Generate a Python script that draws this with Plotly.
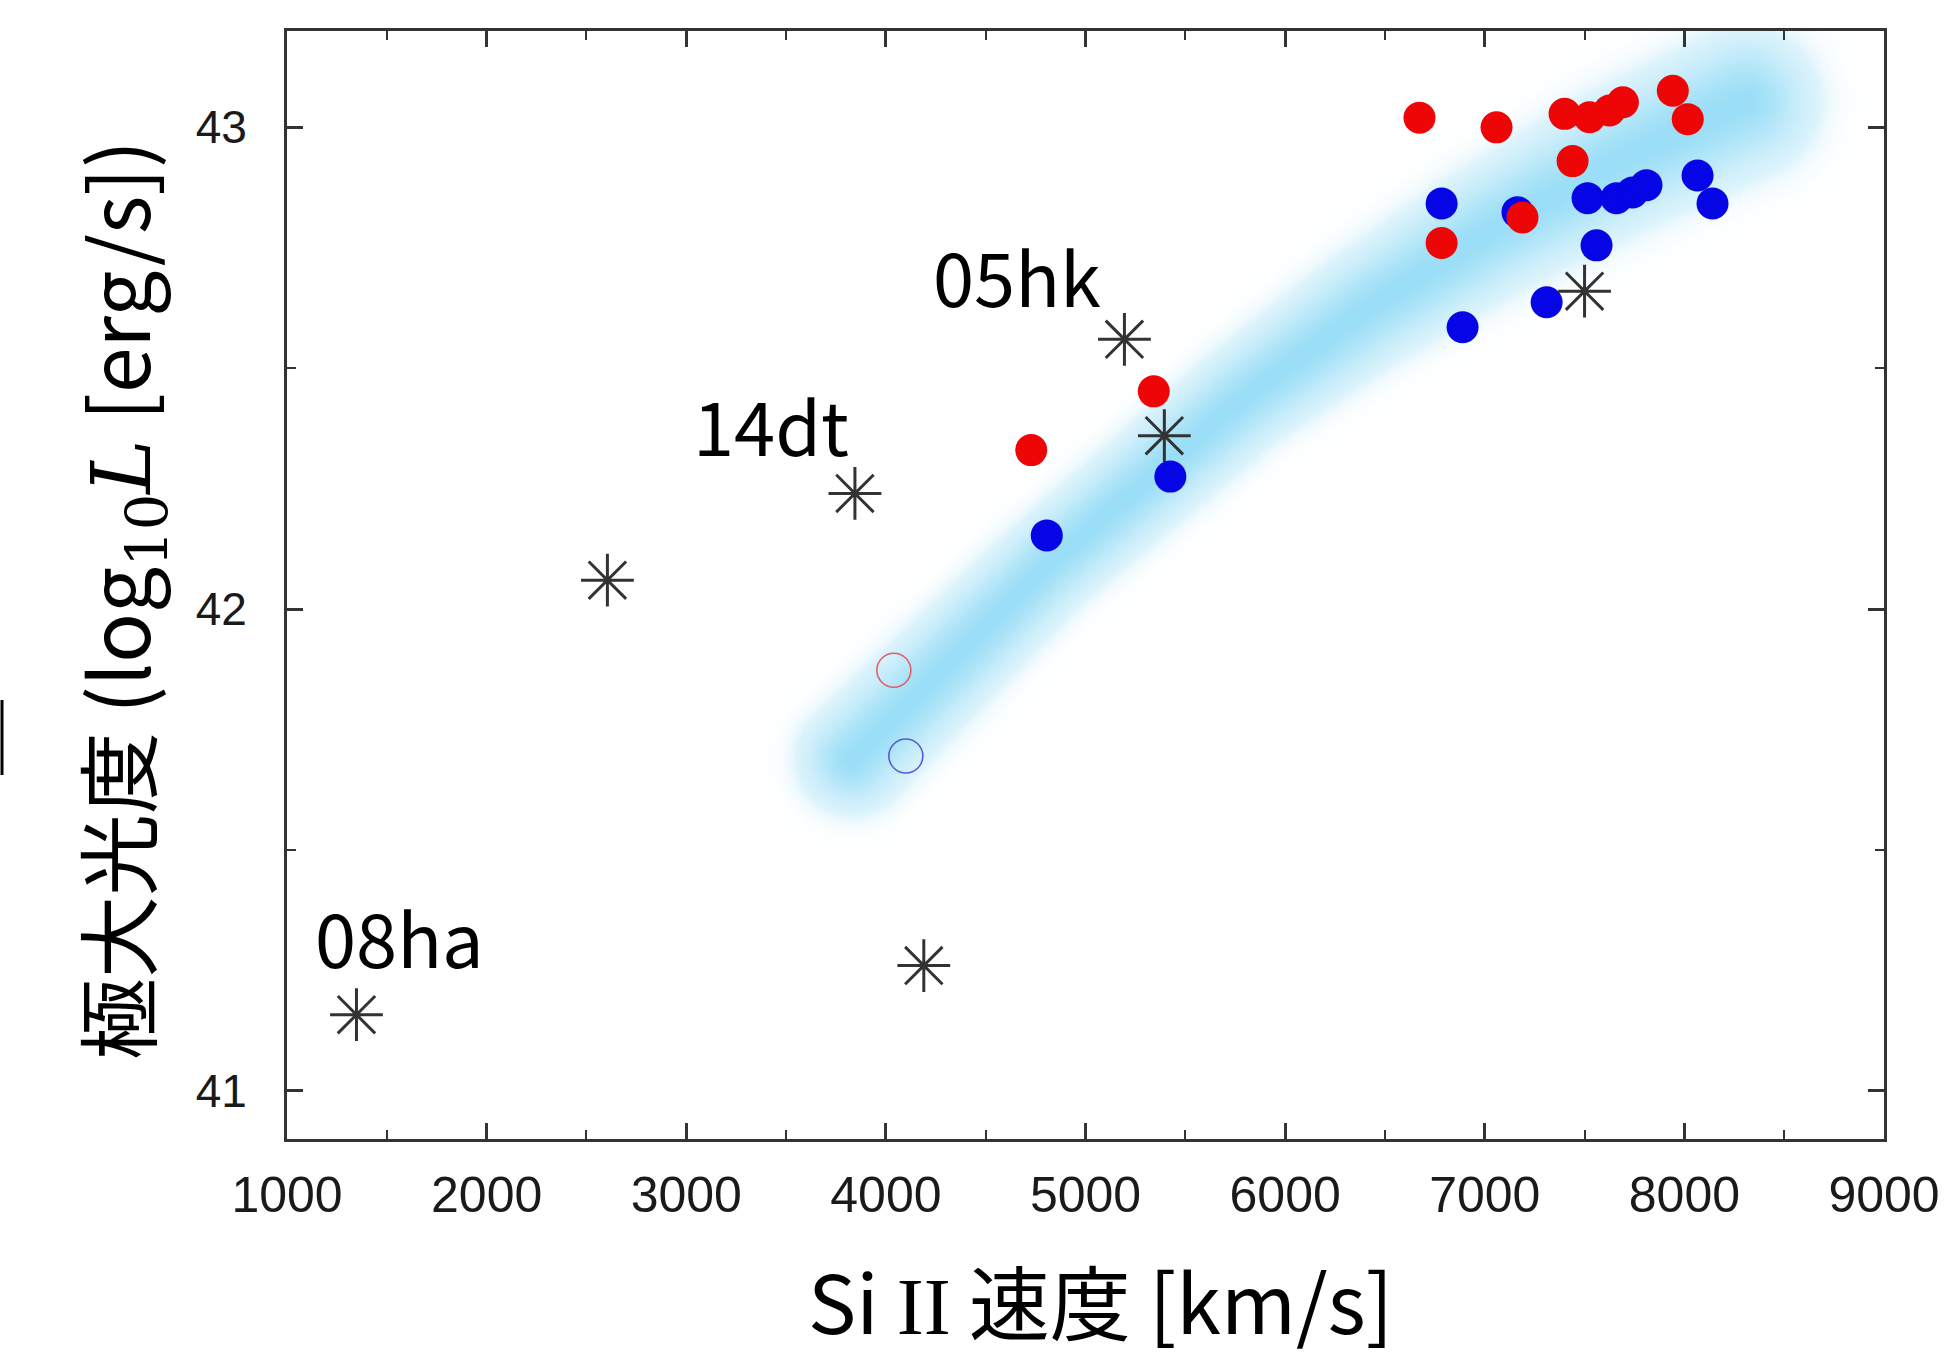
import numpy as np
import plotly.graph_objects as go

# ---------------- data ----------------
# black asterisks (other SNe Ia, incl. labelled ones)
star_v = [1348, 2605, 3845, 4190, 5195, 5395, 7500]
star_L = [41.158, 42.060, 42.240, 41.260, 42.560, 42.360, 42.660]

# red filled circles
red_v = [4728, 5342, 6673, 7059, 7400, 7525, 7625, 7692, 7942, 8017, 7440, 6784, 7189]
red_L = [42.330, 42.452, 43.020, 43.000, 43.028, 43.021, 43.035, 43.052, 43.076, 43.017,
         42.930, 42.760, 42.813]

# blue filled circles
blue_v = [4806, 5425, 6784, 7164, 7515, 7660, 7740, 7810, 8066, 8141, 7560, 7310, 6889]
blue_L = [42.153, 42.275, 42.842, 42.824, 42.853, 42.853, 42.865, 42.880, 42.900, 42.842,
          42.755, 42.637, 42.585]

# open circles
open_red_v = [4040]
open_red_L = [41.873]
open_blue_v = [4100]
open_blue_L = [41.695]

# labels
label_text = ["08ha", "14dt", "05hk"]
label_v = [1563, 3423, 4655]
label_L = [41.322, 42.386, 42.695]

# light-blue trend band (centre line)
band_v = [3830, 4801, 5784, 6406, 7028, 7650, 8300]
band_L = [41.690, 42.090, 42.438, 42.624, 42.786, 42.928, 43.055]

x_ticks = [1000, 2000, 3000, 4000, 5000, 6000, 7000, 8000, 9000]
y_ticks = [41, 42, 43]
x_range = [1000, 9000]
y_range = [40.9, 43.2]

# ---------------- layout geometry ----------------
W, H = 1948, 1358
ML, MR, MT, MB = 287, 64, 31, 219
PW, PH = W - ML - MR, H - MT - MB
sx = PW / (x_range[1] - x_range[0])
sy = PH / (y_range[1] - y_range[0])

# band rendered as a soft shading (distance to centre line, in screen pixels)
band_sigma = np.array([36, 32, 34, 38, 42, 46, 48])
gx = np.linspace(x_range[0], x_range[1], 500)
gy = np.linspace(y_range[0], y_range[1], 350)
GX, GY = np.meshgrid(gx * sx, gy * sy)
bx = np.array(band_v) * sx
by = np.array(band_L) * sy
nd = np.full(GX.shape, np.inf)
for i in range(len(bx) - 1):
    ax_, ay_, bx_, by_ = bx[i], by[i], bx[i + 1], by[i + 1]
    dx, dy = bx_ - ax_, by_ - ay_
    t = ((GX - ax_) * dx + (GY - ay_) * dy) / (dx * dx + dy * dy)
    t = np.clip(t, 0, 1)
    d = np.hypot(GX - (ax_ + t * dx), GY - (ay_ + t * dy))
    s = band_sigma[i] + t * (band_sigma[i + 1] - band_sigma[i])
    nd = np.minimum(nd, d / s)
zband = np.exp(-0.5 * nd ** 2)

fig = go.Figure()
fig.add_trace(go.Heatmap(
    x=gx, y=gy, z=zband, zmin=0, zmax=1, zsmooth="best",
    colorscale=[[0, "rgba(255,255,255,0)"], [0.3, "rgba(205,238,250,0.7)"],
                [1, "rgb(155,222,247)"]],
    showscale=False, hoverinfo="skip"))

fig.add_trace(go.Scatter(x=blue_v, y=blue_L, mode="markers",
                         marker=dict(size=32, color="rgb(5,5,230)", line=dict(width=0))))
fig.add_trace(go.Scatter(x=red_v, y=red_L, mode="markers",
                         marker=dict(size=32, color="rgb(238,5,5)", line=dict(width=0))))
fig.add_trace(go.Scatter(x=open_red_v, y=open_red_L, mode="markers",
                         marker=dict(size=34, symbol="circle-open", color="rgb(225,95,110)",
                                     line=dict(width=1.6, color="rgb(225,95,110)"))))
fig.add_trace(go.Scatter(x=open_blue_v, y=open_blue_L, mode="markers",
                         marker=dict(size=34, symbol="circle-open", color="rgb(90,90,210)",
                                     line=dict(width=1.6, color="rgb(90,90,210)"))))
fig.add_trace(go.Scatter(x=star_v, y=star_L, mode="markers",
                         marker=dict(size=44, symbol="asterisk-open", color="#333333",
                                     line=dict(width=3, color="#333333"))))

jp = "Noto Sans CJK JP"
for t, xv, yv in zip(label_text, label_v, label_L):
    fig.add_annotation(x=xv, y=yv, text=t, showarrow=False, xanchor="center", yanchor="middle",
                       font=dict(family=jp, size=74, color="#000000"))

# axis titles
fig.add_annotation(xref="paper", yref="paper", x=(1100 - ML) / PW, y=(MT + PH - 1298) / PH,
                   text="Si <span style=\"font-family:'Liberation Serif'\">II</span> 速度 [km/s]",
                   showarrow=False, xanchor="center", yanchor="middle",
                   font=dict(family=jp, size=81, color="#000000"))
fig.add_annotation(xref="paper", yref="paper", x=(118 - ML) / PW, y=(MT + PH - 600) / PH,
                   text="極大光度 (log<span style=\"font-family:'DejaVu Serif'\"><sub>10</sub><i>L</i></span> [erg/s])",
                   textangle=-90, showarrow=False, xanchor="center", yanchor="middle",
                   font=dict(family=jp, size=82, color="#000000"))

# small crop artefact at left edge
fig.add_shape(type="line", xref="paper", yref="paper",
              x0=(2 - ML) / PW, x1=(2 - ML) / PW,
              y0=(MT + PH - 700) / PH, y1=(MT + PH - 775) / PH,
              line=dict(color="#000000", width=3))

axis_common = dict(showline=True, linewidth=3, linecolor="#333333", mirror="ticks",
                   ticks="inside", tickwidth=2.5, tickcolor="#333333", ticklen=16,
                   showgrid=False, zeroline=False)
fig.update_xaxes(range=x_range, tickvals=x_ticks, ticktext=[str(v) for v in x_ticks],
                 minor=dict(ticks="inside", ticklen=9, tickwidth=2, tickcolor="#333333", dtick=500,
                            tick0=1000, showgrid=False),
                 tickfont=dict(family="Liberation Sans", size=50, color="#1a1a1a"),
                 ticklabelstandoff=10, **axis_common)
fig.update_yaxes(range=y_range, tickvals=y_ticks, ticktext=[str(v) for v in y_ticks],
                 minor=dict(ticks="inside", ticklen=9, tickwidth=2, tickcolor="#333333", dtick=0.5,
                            tick0=41, showgrid=False),
                 tickfont=dict(family="Liberation Sans", size=46, color="#1a1a1a"),
                 ticklabelstandoff=28, **axis_common)

fig.update_layout(width=W, height=H, margin=dict(l=ML, r=MR, t=MT, b=MB, autoexpand=False),
                  paper_bgcolor="white", plot_bgcolor="white", showlegend=False)

fig.write_html("out.html")
